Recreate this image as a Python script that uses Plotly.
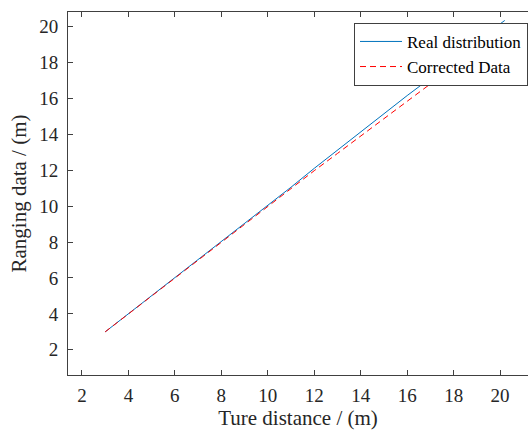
import plotly.graph_objects as go

# Data
true_dist = [3, 4, 5, 6, 7, 8, 9, 10, 11, 12, 13, 14, 15, 16, 17, 18, 19, 20.2]
real_vals = [3.0, 4.0, 5.0, 6.0, 7.0, 8.0, 9.0, 10.0, 11.05, 12.1, 13.12, 14.15, 15.18, 16.15, 17.12, 18.12, 19.18, 20.33]
corr_x = [3, 4, 5, 6, 7, 8, 9, 10, 11, 12, 13, 14, 15, 16, 17, 18, 19, 20]
corr_vals = [3.0, 4.0, 5.0, 6.0, 7.0, 8.0, 9.0, 10.0, 11.0, 11.97, 12.93, 13.9, 14.88, 15.87, 16.82, 17.78, 18.74, 19.7]
tick_vals = [2, 4, 6, 8, 10, 12, 14, 16, 18, 20]

FONT = "Liberation Serif"
AX = "#404040"

fig = go.Figure()
fig.add_trace(go.Scatter(x=true_dist, y=real_vals, mode="lines", name="Real distribution",
                         line=dict(color="#0072BD", width=1)))
fig.add_trace(go.Scatter(x=corr_x, y=corr_vals, mode="lines", name="Corrected Data",
                         line=dict(color="#FF0000", width=1, dash="6px,4px")))

fig.update_layout(
    template="none",
    width=528, height=430,
    margin=dict(l=68, r=0, t=12, b=55),
    paper_bgcolor="white", plot_bgcolor="white",
    font=dict(family=FONT, size=18, color="#262626"),
    showlegend=True,
    legend=dict(x=1, xanchor="right", y=0.97, yanchor="top",
                bgcolor="white", bordercolor=AX, borderwidth=1,
                font=dict(family=FONT, size=17, color="#000000"),
                tracegroupgap=0, itemwidth=42),
    xaxis=dict(range=[1.4, 21.2], tickvals=tick_vals, ticks="inside", ticklen=5,
               tickcolor=AX, showline=True, linecolor=AX, linewidth=1, mirror="ticks",
               showgrid=False, zeroline=False, ticklabelstandoff=3,
               title=dict(text="Ture distance / (m)", font=dict(family=FONT, size=21), standoff=2),
               tickfont=dict(family=FONT, size=19, color="#262626")),
    yaxis=dict(range=[0.6, 20.8], tickvals=tick_vals, ticks="inside", ticklen=5,
               tickcolor=AX, showline=True, linecolor=AX, linewidth=1,
               showgrid=False, zeroline=False, ticklabelstandoff=5,
               title=dict(text="Ranging data / (m)", font=dict(family=FONT, size=21), standoff=6),
               tickfont=dict(family=FONT, size=19, color="#262626")),
)

fig.write_html("out.html")
